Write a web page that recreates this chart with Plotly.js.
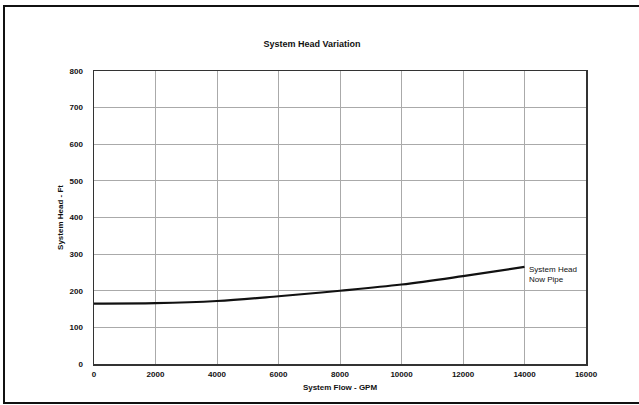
<!DOCTYPE html>
<html>
<head>
<meta charset="utf-8">
<script src="https://cdn.plot.ly/plotly-3.0.1.min.js"></script>
<style>html,body{margin:0;padding:0;background:#fff;}#chart{width:639px;height:405px;}</style>
</head>
<body>
<div id="chart"></div>
<script>
const flowGPM = [0, 2000, 4000, 6000, 8000, 10000, 12000, 14000];
const headFt = [165, 166, 172, 185, 200, 217, 240, 265];
const xTicks = [0, 2000, 4000, 6000, 8000, 10000, 12000, 14000, 16000];
const yTicks = [0, 100, 200, 300, 400, 500, 600, 700, 800];
const seriesLabel = "System Head<br>Now Pipe";
const chartTitle = "System Head Variation";
const xTitle = "System Flow - GPM";
const yTitle = "System Head - Ft";

const W = 492, H = 293;
const layout = {
  width: 639, height: 405,
  margin: {l: 94, r: 53, t: 71, b: 41},
  paper_bgcolor: '#fff', plot_bgcolor: '#fff',
  showlegend: false,
  font: {family: 'Liberation Sans, Arial, sans-serif', color: '#111', size: 8},
  title: {text: '<b>' + chartTitle + '</b>', x: 312/639, xanchor: 'center', y: 1 - 44/405, yanchor: 'middle',
          font: {size: 9, color: '#111'}},
  xaxis: {range: [0, 16000], tickvals: xTicks, ticktext: xTicks.map(v => '<b>' + v + '</b>'),
          ticks: '', showline: true, linecolor: '#333', linewidth: 1.5, mirror: true,
          showgrid: true, gridcolor: '#aaa', gridwidth: 1, zeroline: false,
          tickfont: {size: 8, color: '#111'}, ticklabelstandoff: 2,
          title: {text: '<b>' + xTitle + '</b>', font: {size: 8, color: '#111'}, standoff: 6}},
  yaxis: {range: [0, 800], tickvals: yTicks, ticktext: yTicks.map(v => '<b>' + v + '</b>'),
          ticks: '', showline: true, linecolor: '#333', linewidth: 1.5, mirror: true,
          showgrid: true, gridcolor: '#aaa', gridwidth: 1, zeroline: false,
          tickfont: {size: 8, color: '#111'}, ticklabelstandoff: 8,
          title: {text: '<b>' + yTitle + '</b>', font: {size: 8, color: '#111'}, standoff: 4}},
  shapes: [{type: 'rect', xref: 'paper', yref: 'paper',
            x0: (4-94)/W, x1: (650-94)/W, y0: (364-403)/H, y1: (364-6)/H,
            line: {color: '#111', width: 2}}],
  annotations: [{x: flowGPM[flowGPM.length-1], y: headFt[headFt.length-1], xref: 'x', yref: 'y',
                 text: seriesLabel, showarrow: false, xanchor: 'left', yanchor: 'top', align: 'left',
                 xshift: 2, yshift: 4, font: {size: 8, color: '#111'}}]
};
const data = [{x: flowGPM, y: headFt, type: 'scatter', mode: 'lines',
               line: {color: '#111', width: 2.2, shape: 'spline'}, name: 'System Head Now Pipe'}];
Plotly.newPlot('chart', data, layout, {displayModeBar: false, staticPlot: true});
</script>
</body>
</html>
